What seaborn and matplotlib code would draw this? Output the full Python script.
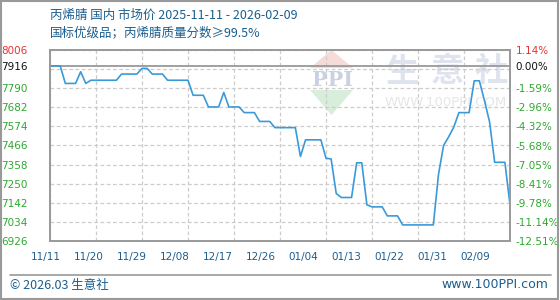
import numpy as np
import pandas as pd
import matplotlib
matplotlib.use("Agg")
import matplotlib.pyplot as plt
import matplotlib.transforms as mtransforms
from matplotlib.patches import Polygon, Rectangle
import seaborn as sns

# ---- data ----
dates = ["2025-11-11", "2025-11-13", "2025-11-14", "2025-11-16", "2025-11-17", "2025-11-18",
         "2025-11-19", "2025-11-24", "2025-11-25", "2025-11-28", "2025-11-29", "2025-11-30",
         "2025-12-01", "2025-12-03", "2025-12-04", "2025-12-08", "2025-12-09", "2025-12-11",
         "2025-12-12", "2025-12-14", "2025-12-15", "2025-12-16", "2025-12-18", "2025-12-19",
         "2025-12-21", "2025-12-22", "2025-12-24", "2025-12-25", "2025-12-29", "2025-12-30",
         "2025-12-31", "2026-01-03", "2026-01-04", "2026-01-05", "2026-01-06", "2026-01-07",
         "2026-01-09", "2026-01-10", "2026-01-11", "2026-01-12", "2026-01-13", "2026-01-15",
         "2026-01-16", "2026-01-18", "2026-01-19", "2026-01-25", "2026-01-26", "2026-01-27",
         "2026-01-28", "2026-01-29", "2026-01-30", "2026-02-01", "2026-02-02", "2026-02-03",
         "2026-02-04", "2026-02-05", "2026-02-06", "2026-02-08", "2026-02-09"]
prices = [7916, 7916, 7817, 7817, 7883, 7817,
          7835, 7835, 7870, 7870, 7902, 7902,
          7870, 7870, 7835, 7835, 7750, 7750,
          7684, 7684, 7766, 7684, 7684, 7652,
          7652, 7602, 7602, 7567, 7567, 7404,
          7498, 7498, 7394, 7390, 7195, 7172,
          7172, 7368, 7368, 7131, 7119, 7119,
          7068, 7068, 7017, 7017, 7300, 7466,
          7515, 7570, 7652, 7652, 7832, 7832,
          7720, 7600, 7371, 7371, 7131]
base_price = 7916
y_ticks = [8006, 7916, 7790, 7682, 7574, 7466, 7358, 7250, 7142, 7034, 6926]
x_tick_dates = ["2025-11-11", "2025-11-20", "2025-11-29", "2025-12-08", "2025-12-17", "2025-12-26",
                "2026-01-04", "2026-01-13", "2026-01-22", "2026-01-31", "2026-02-09"]
x_tick_labels = ["11/11", "11/20", "11/29", "12/08", "12/17", "12/26",
                 "01/04", "01/13", "01/22", "01/31", "02/09"]
title1 = "丙烯腈 国内 市场价 2025-11-11 - 2026-02-09"
title2 = "国标优级品；丙烯腈质量分数≥99.5%"
footer_left = "© 2026.03 生意社"
footer_right = "www.100PPI.com"

df = pd.DataFrame({"date": pd.to_datetime(dates), "price": prices})

sns.set_theme(style="white")
plt.rcParams['font.family'] = ['Noto Sans CJK SC', 'DejaVu Sans']

W, H = 560, 300
fig = plt.figure(figsize=(W / 100, H / 100), dpi=100)
fig.patch.set_facecolor("white")
ax = fig.add_axes([50 / W, 1 - 241 / H, 460 / W, 191 / H])

sns.lineplot(data=df, x="date", y="price", ax=ax, color="#3a9ad9", linewidth=1.2)

x_ticks = pd.to_datetime(x_tick_dates)
ax.set_xlim(x_ticks[0], x_ticks[-1])
ymin, ymax = 6926, 8006
ax.set_ylim(ymin, ymax)

# grid
step = (ymax - ymin) / 10
grid_vals = [ymax - step * k for k in range(11)]
for gv in grid_vals:
    ax.axhline(gv, color="#cccccc", linestyle=(0, (3, 2)), linewidth=0.9, zorder=0.5)
for xt in x_ticks:
    ax.axvline(xt, color="#cccccc", linestyle=(0, (3, 2)), linewidth=0.9, zorder=0.5)
ax.axhline(base_price, color="#999999", linewidth=1.3, zorder=0.8)

ax.set_xlabel("")
ax.set_ylabel("")
for s in ax.spines.values():
    s.set_color("#999999")
    s.set_linewidth(1.4)
    s.set_visible(True)

ax.set_xticks(x_ticks)
ax.set_xticklabels(x_tick_labels, fontsize=7.5, color="#1b5e8e", family="DejaVu Sans")
ax.tick_params(axis="x", length=0, pad=8)
for i, lab in enumerate(ax.get_xticklabels()):
    off = mtransforms.ScaledTranslation((-4 - 3.1 * i) / 100, 0, fig.dpi_scale_trans)
    lab.set_transform(lab.get_transform() + off)

def col(v):
    if v > base_price:
        return "#e8322f"
    if v == base_price:
        return "#111111"
    return "#2ea82e"

ax.set_yticks(y_ticks)
ax.set_yticklabels([str(v) for v in y_ticks], fontsize=7.5, family="DejaVu Sans")
ax.tick_params(axis="y", length=0, pad=16)
for lab, v in zip(ax.get_yticklabels(), y_ticks):
    lab.set_color(col(v))

ax2 = ax.twinx()
ax2.set_ylim(ymin, ymax)
ax2.set_yticks(y_ticks)
ax2.set_yticklabels([f"{(v - base_price) / base_price * 100:.2f}%" for v in y_ticks],
                    fontsize=7.5, family="DejaVu Sans")
ax2.tick_params(axis="y", length=0, pad=4)
for lab, v in zip(ax2.get_yticklabels(), y_ticks):
    lab.set_color(col(v))
for s in ax2.spines.values():
    s.set_visible(False)
ax2.grid(False)

# watermark (behind the line)
def fx(x):
    return x / W

def fy(y):
    return 1 - y / H

tf = fig.transFigure
ax.add_patch(Polygon([(fx(310), fy(68)), (fx(353), fy(68)), (fx(331.5), fy(50))],
                     closed=True, transform=tf, facecolor="#f6dcd8", edgecolor="none",
                     zorder=0.2, clip_on=False))
ax.add_patch(Polygon([(fx(310), fy(90)), (fx(353), fy(90)), (fx(331.5), fy(115))],
                     closed=True, transform=tf, facecolor="#d8eedb", edgecolor="none",
                     zorder=0.2, clip_on=False))
ax.text(fx(333), fy(80), "PPI", transform=tf, fontsize=15, color="#c9d2e3", fontweight="bold",
        family="DejaVu Serif", ha="center", va="center", zorder=0.3)
for ch, xc in zip("生意社", [403, 447, 491]):
    ax.text(fx(xc), fy(72), ch, transform=tf, fontsize=24, color="#dfe3ee", fontweight="bold",
            ha="center", va="center", zorder=0.3)
ax.text(fx(446), fy(103), "WWW.100PPI.COM", transform=tf, fontsize=9.5, color="#e6e6e6",
        family="DejaVu Sans", ha="center", va="center", zorder=0.3)

# titles & footer
fig.text(fx(50), fy(15), title1, fontsize=9, color="#1b5e8e", ha="left", va="center")
fig.text(fx(50), fy(33), title2, fontsize=9, color="#1b5e8e", ha="left", va="center")
fig.add_artist(plt.Line2D([fx(10), fx(551)], [fy(275), fy(275)], transform=tf,
                          color="#999999", linewidth=1.2))
fig.text(fx(10), fy(285), footer_left, fontsize=9, color="#1b5e8e", ha="left", va="center")
fig.text(fx(548), fy(285), footer_right, fontsize=9, color="#1b5e8e", ha="right", va="center",
         family="DejaVu Sans")
fig.add_artist(Rectangle((0.001, 0.002), 0.996, 0.996, transform=tf, fill=False,
                         edgecolor="#999999", linewidth=1.5))

fig.savefig("out.png", dpi=100)
